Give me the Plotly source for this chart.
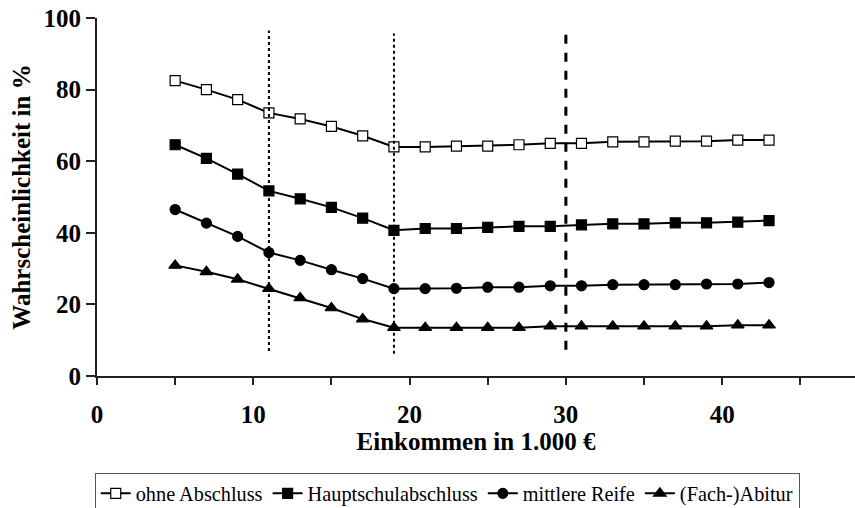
import plotly.graph_objects as go

# Data
income = [5, 7, 9, 11, 13, 15, 17, 19, 21, 23, 25, 27, 29, 31, 33, 35, 37, 39, 41, 43]
ohne_abschluss = [82.5, 80.0, 77.2, 73.5, 71.8, 69.7, 67.1, 64.0, 64.0, 64.2,
                  64.2, 64.6, 65.0, 65.0, 65.4, 65.4, 65.6, 65.6, 65.9, 65.9]
hauptschul = [64.6, 60.8, 56.4, 51.7, 49.5, 47.1, 44.1, 40.7, 41.2, 41.2,
              41.5, 41.8, 41.8, 42.2, 42.5, 42.5, 42.8, 42.8, 43.0, 43.4]
mittlere_reife = [46.5, 42.7, 39.0, 34.5, 32.3, 29.7, 27.2, 24.4, 24.4, 24.5,
                  24.8, 24.8, 25.2, 25.2, 25.5, 25.5, 25.5, 25.7, 25.7, 26.1]
abitur = [30.9, 29.1, 27.0, 24.4, 21.8, 19.0, 15.9, 13.5, 13.5, 13.5,
          13.5, 13.5, 13.9, 13.9, 13.9, 13.9, 13.9, 13.9, 14.2, 14.2]

series_names = ["ohne Abschluss", "Hauptschulabschluss", "mittlere Reife", "(Fach-)Abitur"]
x_tick_vals = [0, 5, 10, 15, 20, 25, 30, 35, 40, 45]
x_tick_text = ["0", "", "10", "", "20", "", "30", "", "40", ""]
y_tick_vals = [0, 20, 40, 60, 80, 100]

# Reference lines (x position, y from, y to, dash)
ref_x = [11, 19, 30]
ref_y0 = [7.0, 6.2, 7.3]
ref_y1 = [96.5, 95.7, 96.0]
ref_dash = ["dot", "dot", "dash"]

FONT = "'Liberation Serif', 'Times New Roman', Times, serif"

fig = go.Figure()
styles = [
    dict(symbol="square", color="white", size=10),
    dict(symbol="square", color="black", size=10),
    dict(symbol="circle", color="black", size=10),
    dict(symbol="triangle-up", color="black", size=11),
]
for name, ys, st in zip(series_names, [ohne_abschluss, hauptschul, mittlere_reife, abitur], styles):
    fig.add_trace(go.Scatter(
        x=income, y=ys, name=name, mode="lines+markers",
        line=dict(color="black", width=2),
        marker=dict(symbol=st["symbol"], color=st["color"], size=st["size"],
                    line=dict(color="black", width=1.2)),
    ))

for xv, y0, y1, d in zip(ref_x, ref_y0, ref_y1, ref_dash):
    fig.add_shape(type="line", xref="x", yref="y", x0=xv, x1=xv, y0=y0, y1=y1,
                  line=dict(color="black", width=2 if d == "dot" else 3, dash=d))

fig.update_layout(
    width=855, height=508,
    margin=dict(l=97, r=0, t=18, b=132, autoexpand=False),
    paper_bgcolor="white", plot_bgcolor="white",
    font=dict(family=FONT, color="black"),
    showlegend=True,
    legend=dict(
        orientation="h", x=-0.003, y=-0.27, xanchor="left", yanchor="top",
        bordercolor="#555555", borderwidth=1,
        font=dict(family=FONT, size=20.3, color="black"),
        itemwidth=30, tracegroupgap=0,
    ),
    xaxis=dict(
        range=[0, 48.5], showgrid=False, zeroline=False, automargin=False,
        showline=True, linecolor="#222222", linewidth=2,
        ticks="outside", ticklen=7, tickwidth=1.5, tickcolor="#222222",
        tickvals=x_tick_vals, ticktext=x_tick_text, ticklabelstandoff=8,
        tickfont=dict(family=FONT, size=25, weight="bold"),
        title=dict(text="Einkommen in 1.000 €", standoff=3,
                   font=dict(family=FONT, size=25, weight="bold")),
    ),
    yaxis=dict(
        range=[0, 100], showgrid=False, zeroline=False, automargin=False,
        showline=True, linecolor="#222222", linewidth=2,
        ticks="outside", ticklen=9, tickwidth=1.5, tickcolor="#222222",
        tickvals=y_tick_vals,
        tickfont=dict(family=FONT, size=25, weight="bold"),
        title=dict(text="Wahrscheinlichkeit in %", standoff=6,
                   font=dict(family=FONT, size=25, weight="bold")),
    ),
)

fig.write_html("out.html", config={"displayModeBar": False},
               post_script="document.body.style.margin='0';")
